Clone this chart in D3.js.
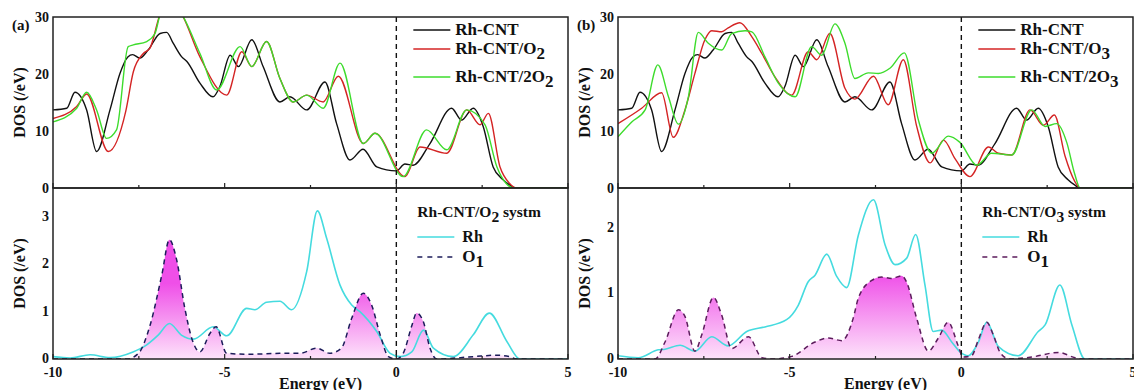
<!DOCTYPE html>
<html>
<head>
<meta charset="utf-8">
<script src="https://cdn.jsdelivr.net/npm/d3@7"></script>
<style>
  body { margin: 0; background: #fff; }
  svg text { font-family: "Liberation Serif", "Times New Roman", serif; font-weight: bold; fill: #111; }
</style>
</head>
<body>
<svg id="chart" width="1134" height="390"></svg>
<script>
// energies (eV) and total DOS (/eV)
var rhCntE   = [-10,-9.6,-9.36,-9.02,-8.73,-8.34,-8.05,-7.82,-7.68,-7.47,-7.23,-6.88,-6.69,-6.5,-6.25,-6.1,-5.72,-5.34,-5.14,-4.84,-4.6,-4.21,-3.88,-3.39,-3.1,-2.61,-2.08,-1.74,-1.35,-0.97,-0.57,0,0.25,0.49,0.98,1.61,1.9,2.24,2.53,2.82,3.1,3.31,3.45,5];
var rhCntDos = [13.7,14.0,16.8,13.7,6.4,13.7,20.1,23.0,23.4,22.8,24.2,27.1,27.3,25.4,23.0,22.2,18.4,16.0,17.8,23.3,21.3,26.0,21.3,15.1,16.0,13.7,18.6,11.3,4.9,6.8,3.7,3.0,4.2,4.0,7.8,14.0,11.9,14.0,10.8,3.7,1.5,0.5,0,0];

var rhO2E   = [-10,-9.31,-9.02,-8.39,-7.88,-7.66,-7.37,-7.18,-6.88,-6.6,-6.25,-5.72,-4.94,-4.5,-4.21,-3.78,-3.39,-3.0,-2.61,-2.13,-1.69,-0.96,-0.62,0.25,0.69,1.47,2.05,2.44,2.68,3.02,3.3,3.5,5];
var rhO2Dos = [12.2,14.3,16.5,6.4,13.5,20.4,23.6,24.5,30.5,33,30.5,23.0,16.3,23.9,21.3,25.7,19.2,15.1,16.3,15.1,19.6,7.8,9.6,2.0,7.2,6.1,13.7,11.1,13.1,3.7,0.8,0,0];

var rh2O2E   = [-10,-9.31,-9.02,-8.73,-8.44,-8.15,-7.81,-7.66,-7.27,-7.03,-6.88,-6.6,-6.25,-5.72,-5.23,-4.55,-4.21,-3.78,-3.39,-3.0,-2.61,-2.13,-1.64,-0.96,-0.62,0.2,0.88,1.47,2.05,2.58,2.93,3.2,3.4,5];
var rh2O2Dos = [11.6,14.0,16.8,13.7,8.7,10.2,24.8,25.1,25.7,27.1,30.5,33,30.5,23.6,17.2,24.8,21.3,25.7,19.2,15.1,16.3,14.0,21.9,7.8,9.6,2.0,10.2,6.7,13.7,11.1,3.7,0.8,0,0];

var rhO3E   = [-10,-9.31,-8.73,-8.39,-8.05,-7.76,-7.47,-7.27,-6.98,-6.79,-6.45,-6.1,-5.81,-5.43,-4.94,-4.46,-4.21,-3.83,-3.39,-3.1,-2.56,-2.13,-1.69,-1.3,-0.91,-0.52,-0.18,0.25,0.79,1.08,1.47,2.0,2.39,2.71,3.02,3.3,3.46,5];
var rhO3Dos = [11.3,14.0,16.7,8.9,13.7,20.1,26.0,27.6,27.4,28.1,29.0,26.5,23.6,19.5,16.3,23.9,22.5,27.1,17.5,15.6,19.6,14.6,22.5,10.8,4.4,8.4,5.1,2.0,7.2,6.1,5.8,13.7,11.0,12.8,5.6,1.2,0,0];

var rh2O3E   = [-10,-9.6,-9.21,-8.84,-8.53,-8.24,-7.95,-7.66,-7.37,-6.98,-6.69,-6.3,-6.1,-5.72,-5.33,-4.84,-4.36,-4.07,-3.68,-3.39,-3.1,-2.71,-2.42,-2.08,-1.66,-1.25,-0.86,-0.38,-0.04,0.45,0.88,1.47,2.05,2.44,2.78,3.07,3.3,3.46,5];
var rh2O3Dos = [9.0,11.6,13.7,21.6,16.0,11.2,16.0,27.3,25.4,24.2,27.1,27.6,27.4,23.0,18.4,16.0,24.8,23.3,28.8,25.4,19.2,20.2,20.1,21.0,23.7,11.9,6.1,9.1,8.0,4.0,6.1,5.8,13.7,10.8,11.3,8.0,2.5,0,0];

// projected DOS, Rh-CNT/O2 system
var pdosO2RhE   = [-10,-9.5,-8.92,-8.34,-7.67,-7.27,-6.93,-6.61,-6.25,-5.91,-5.33,-4.94,-4.36,-4.12,-3.78,-3.39,-3.05,-2.61,-2.3,-2.03,-1.64,-1.3,-1.06,-0.57,-0.18,0.11,0.45,0.79,1.08,1.66,2.24,2.71,3.22,3.6,5];
var pdosO2Rh    = [0.05,0.02,0.09,0.03,0.15,0.3,0.51,0.75,0.5,0.42,0.68,0.49,1.07,1.04,1.2,1.22,1.04,1.85,3.13,2.55,1.56,1.14,1.0,0.58,0.12,0.05,0.15,0.61,0.23,0.05,0.51,0.97,0.37,0,0];
var pdosO2O1E   = [-10,-7.85,-7.51,-7.17,-6.83,-6.61,-6.4,-6.16,-5.96,-5.72,-5.43,-5.25,-4.94,-4.26,-3.39,-2.8,-2.32,-1.94,-1.6,-1.3,-0.96,-0.72,-0.47,-0.23,0,0.2,0.45,0.59,0.79,0.98,1.18,2.24,2.92,3.3,3.5,5];
var pdosO2O1    = [0,0,0.12,0.72,1.78,2.52,2.1,1.07,0.44,0.15,0.54,0.68,0.12,0.1,0.12,0.12,0.23,0.12,0.23,0.86,1.39,1.14,0.51,0.05,0,0.12,0.7,0.97,0.78,0.23,0,0.05,0.08,0.05,0,0];

// projected DOS, Rh-CNT/O3 system
var pdosO3RhE   = [-10,-9.41,-8.83,-8.63,-8.19,-7.76,-7.27,-6.79,-6.25,-5.72,-5.09,-4.75,-4.46,-4.26,-3.92,-3.63,-3.34,-3.0,-2.56,-2.22,-1.93,-1.59,-1.33,-1.06,-0.82,-0.57,-0.28,-0.04,0.2,0.5,0.74,1.08,1.66,2.24,2.44,2.87,3.22,3.6,5];
var pdosO3Rh    = [0.05,0.02,0.14,0.15,0.21,0.12,0.34,0.2,0.42,0.49,0.6,0.82,1.18,1.28,1.6,1.26,1.09,1.89,2.43,1.74,1.44,1.54,1.9,1.13,0.42,0.44,0.26,0.11,0.05,0.26,0.56,0.19,0.05,0.42,0.52,1.13,0.52,0,0];
var pdosO3O1E   = [-10,-8.92,-8.63,-8.24,-8.05,-7.76,-7.56,-7.22,-6.98,-6.69,-6.2,-5.81,-5.5,-4.94,-4.26,-3.87,-3.48,-3.15,-3.0,-2.61,-2.32,-2.03,-1.74,-1.6,-1.3,-0.96,-0.67,-0.38,-0.09,0.05,0.3,0.5,0.74,0.93,1.13,1.4,2.05,2.83,3.31,3.5,5];
var pdosO3O1    = [0,0,0.26,0.75,0.65,0.12,0.37,0.94,0.67,0.16,0.34,0.02,0,0.04,0.26,0.32,0.28,0.62,0.93,1.2,1.25,1.23,1.27,1.18,0.62,0.12,0.32,0.56,0.2,0.03,0.05,0.3,0.56,0.37,0.1,0,0.03,0.1,0.02,0,0];

var xTicks = [-10, -5, 0, 5];
var xMinor = [-7.5, -2.5, 2.5];
var upperTicks = [0, 10, 20, 30];

var svg = d3.select("#chart");
var defs = svg.append("defs");

function zip(xs, ys) { return xs.map(function (x, i) { return [x, ys[i]]; }); }

function drawPanel(p) {
  var x = d3.scaleLinear().domain([-10, 5]).range([p.left, p.right]);
  var yU = d3.scaleLinear().domain([0, 30]).range([p.mid, p.top]);
  var yL = d3.scaleLinear().domain([0, p.lowMax]).range([p.bottom, p.mid]);

  // clip for the upper panel
  defs.append("clipPath").attr("id", "clipU" + p.id)
    .append("rect").attr("x", p.left).attr("y", p.top)
    .attr("width", p.right - p.left).attr("height", p.mid - p.top);
  defs.append("clipPath").attr("id", "clipL" + p.id)
    .append("rect").attr("x", p.left).attr("y", p.mid)
    .attr("width", p.right - p.left).attr("height", p.bottom - p.mid);

  // gradient under the O1 curve
  var g = defs.append("linearGradient").attr("id", "grad" + p.id)
    .attr("gradientUnits", "userSpaceOnUse")
    .attr("x1", 0).attr("x2", 0)
    .attr("y1", yL(0)).attr("y2", yL(p.gradTop));
  g.append("stop").attr("offset", 0).attr("stop-color", "#fde3fa");
  g.append("stop").attr("offset", 1).attr("stop-color", "#ef4fe8");

  var lineU = d3.line().curve(d3.curveMonotoneX)
    .x(function (d) { return x(d[0]); }).y(function (d) { return yU(d[1]); });
  var lineL = d3.line().curve(d3.curveMonotoneX)
    .x(function (d) { return x(d[0]); }).y(function (d) { return yL(d[1]); });
  var areaL = d3.area().curve(d3.curveMonotoneX)
    .x(function (d) { return x(d[0]); }).y0(yL(0)).y1(function (d) { return yL(d[1]); });

  // upper curves
  var gu = svg.append("g").attr("clip-path", "url(#clipU" + p.id + ")");
  p.upper.forEach(function (s) {
    gu.append("path").datum(zip(s.e, s.v))
      .attr("d", lineU).attr("fill", "none")
      .attr("stroke", s.color).attr("stroke-width", 1.4);
  });

  // lower curves
  var gl = svg.append("g").attr("clip-path", "url(#clipL" + p.id + ")");
  var o1 = zip(p.o1E, p.o1);
  gl.append("path").datum(o1).attr("d", areaL).attr("fill", "url(#grad" + p.id + ")");
  gl.append("path").datum(zip(p.rhE, p.rh)).attr("d", lineL)
    .attr("fill", "none").attr("stroke", "#45dbdf").attr("stroke-width", 1.6);
  gl.append("path").datum(o1).attr("d", lineL)
    .attr("fill", "none").attr("stroke", p.o1Color).attr("stroke-width", 1.5)
    .attr("stroke-dasharray", "5,4");

  // Fermi level
  svg.append("line").attr("x1", x(0)).attr("x2", x(0))
    .attr("y1", p.top).attr("y2", p.bottom)
    .attr("stroke", "#111").attr("stroke-width", 1.4).attr("stroke-dasharray", "5,4");

  // frames
  [[p.top, p.mid], [p.mid, p.bottom]].forEach(function (r) {
    svg.append("rect").attr("x", p.left).attr("y", r[0])
      .attr("width", p.right - p.left).attr("height", r[1] - r[0])
      .attr("fill", "none").attr("stroke", "#222").attr("stroke-width", 1.5);
  });

  // x ticks (inward) on the shared line and the bottom axis
  xTicks.concat(xMinor).forEach(function (t) {
    var len = xTicks.indexOf(t) >= 0 ? 5 : 3;
    [p.mid, p.bottom].forEach(function (yy) {
      svg.append("line").attr("x1", x(t)).attr("x2", x(t))
        .attr("y1", yy).attr("y2", yy - len)
        .attr("stroke", "#222").attr("stroke-width", 1.2);
    });
  });
  xTicks.forEach(function (t) {
    svg.append("text").attr("x", x(t)).attr("y", p.bottom + 18)
      .attr("text-anchor", "middle").attr("font-size", 14)
      .text(t);
  });
  svg.append("text").attr("x", (p.left + p.right) / 2 + 10).attr("y", 389)
    .attr("text-anchor", "middle").attr("font-size", 16).text("Energy (eV)");

  // y tick labels
  upperTicks.forEach(function (t) {
    svg.append("text").attr("x", p.left - 4).attr("y", yU(t) + 5)
      .attr("text-anchor", "end").attr("font-size", 14).text(t);
  });
  p.lowTicks.forEach(function (t) {
    svg.append("text").attr("x", p.left - 4).attr("y", yL(t) + 4)
      .attr("text-anchor", "end").attr("font-size", 14).text(t);
  });

  // y axis titles
  [[(p.top + p.mid) / 2], [(p.mid + p.bottom) / 2]].forEach(function (c) {
    svg.append("text")
      .attr("transform", "translate(" + (p.left - 28) + "," + c[0] + ") rotate(-90)")
      .attr("text-anchor", "middle").attr("font-size", 16).text("DOS (/eV)");
  });

  // panel tag
  svg.append("text").attr("x", p.left - 41).attr("y", p.top + 13)
    .attr("font-size", 15).text(p.tag);

  // upper legend
  var lx = x(0) + 17;
  p.upper.forEach(function (s, i) {
    var ly = [30, 49, 77][i];
    svg.append("line").attr("x1", lx).attr("x2", lx + 37).attr("y1", ly).attr("y2", ly)
      .attr("stroke", s.color).attr("stroke-width", 1.4);
    var t = svg.append("text").attr("x", lx + 42).attr("y", ly + 5).attr("font-size", 17);
    t.append("tspan").text(s.name);
    if (s.sub) t.append("tspan").attr("dy", 5).text(s.sub);
  });

  // lower legend
  var bx = x(0) + 21;
  var t0 = svg.append("text").attr("x", bx).attr("y", 217).attr("font-size", 15.5);
  t0.append("tspan").text(p.sysName);
  t0.append("tspan").attr("dy", 5).text(p.sysSub);
  t0.append("tspan").attr("dy", -5).text(" systm");
  svg.append("line").attr("x1", bx).attr("x2", bx + 37).attr("y1", 237).attr("y2", 237)
    .attr("stroke", "#45dbdf").attr("stroke-width", 1.6);
  svg.append("text").attr("x", bx + 45).attr("y", 242).attr("font-size", 16).text("Rh");
  svg.append("line").attr("x1", bx).attr("x2", bx + 37).attr("y1", 257).attr("y2", 257)
    .attr("stroke", p.o1Color).attr("stroke-width", 1.5).attr("stroke-dasharray", "5,5");
  var t1 = svg.append("text").attr("x", bx + 45).attr("y", 262).attr("font-size", 17);
  t1.append("tspan").text("O");
  t1.append("tspan").attr("dy", 5).text("1");
}

drawPanel({
  id: "a", tag: "(a)", left: 53, right: 568, top: 17, mid: 188, bottom: 359,
  lowMax: 3.613, lowTicks: [0, 1, 2, 3], gradTop: 1.6,
  upper: [
    { name: "Rh-CNT", e: rhCntE, v: rhCntDos, color: "#111111" },
    { name: "Rh-CNT/O", sub: "2", e: rhO2E, v: rhO2Dos, color: "#d42424" },
    { name: "Rh-CNT/2O", sub: "2", e: rh2O2E, v: rh2O2Dos, color: "#3ddc2c" }
  ],
  rhE: pdosO2RhE, rh: pdosO2Rh, o1E: pdosO2O1E, o1: pdosO2O1, o1Color: "#1c1c5a",
  sysName: "Rh-CNT/O", sysSub: "2"
});

drawPanel({
  id: "b", tag: "(b)", left: 618, right: 1133, top: 17, mid: 188, bottom: 359,
  lowMax: 2.61, lowTicks: [0, 1, 2], gradTop: 1.3,
  upper: [
    { name: "Rh-CNT", e: rhCntE, v: rhCntDos, color: "#111111" },
    { name: "Rh-CNT/O", sub: "3", e: rhO3E, v: rhO3Dos, color: "#d42424" },
    { name: "Rh-CNT/2O", sub: "3", e: rh2O3E, v: rh2O3Dos, color: "#3ddc2c" }
  ],
  rhE: pdosO3RhE, rh: pdosO3Rh, o1E: pdosO3O1E, o1: pdosO3O1, o1Color: "#5c1c5c",
  sysName: "Rh-CNT/O", sysSub: "3"
});
</script>
</body>
</html>
